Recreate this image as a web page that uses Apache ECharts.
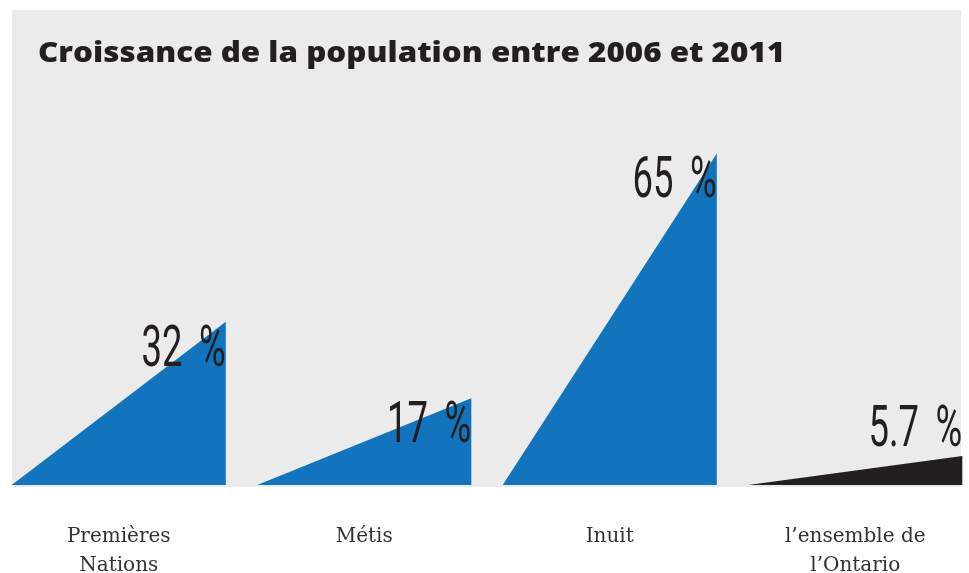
<!DOCTYPE html>
<html>
<head>
<meta charset="utf-8">
<script src="https://cdn.jsdelivr.net/npm/echarts@6/dist/echarts.min.js"></script>
<style>
html,body{margin:0;padding:0;background:#fff;}
#chart{width:969px;height:573px;}
</style>
</head>
<body>
<div id="chart"></div>
<script>
var categories = ['Premières\nNations', 'Métis', 'Inuit', 'l’ensemble de\nl’Ontario'];
var values = [32, 17, 65, 5.7];
var valueLabels = ['32 %', '17 %', '65 %', '5.7 %'];
var colors = ['#1174bd', '#1174bd', '#1174bd', '#231f20'];
var titleText = 'Croissance de la population entre 2006 et 2011';

var chart = echarts.init(document.getElementById('chart'));

function renderTriangle(params, api) {
  var idx = api.value(0);
  var val = api.value(1);
  var base = api.coord([idx, 0]);
  var apex = api.coord([idx, val]);
  var band = api.size([1, 0])[0];
  var half = band * 0.872 / 2;
  var left = base[0] - half;
  var right = base[0] + half;
  var labelTop = Math.min(apex[1], base[1] - 83) + 1;
  return {
    type: 'group',
    children: [
      {
        type: 'polygon',
        shape: { points: [[left, base[1]], [right, base[1]], [right, apex[1]]] },
        style: { fill: colors[idx] }
      },
      {
        type: 'text',
        x: right,
        y: labelTop,
        scaleX: 0.64,
        style: {
          text: valueLabels[idx].replace(' ', ' \u2009'),
          x: 0, y: 0,
          align: 'right',
          verticalAlign: 'top',
          fill: '#231f20',
          font: '400 57px Roboto'
        },
        z2: 10
      }
    ]
  };
}

var data = values.map(function (v, i) { return [i, v]; });

chart.setOption({
  backgroundColor: '#ffffff',
  animation: false,
  graphic: [
    {
      type: 'rect',
      shape: { x: 12, y: 10, width: 949, height: 477 },
      style: { fill: '#ebebeb' },
      z: -10,
      silent: true
    },
    {
      type: 'text',
      x: 38,
      y: 54,
      scaleX: 1.12,
      style: {
        text: titleText,
        fill: '#231f20',
        font: '800 28px "Open Sans"',
        verticalAlign: 'middle'
      },
      z: 10
    }
  ],
  grid: { left: -4, right: -9, top: 77, bottom: 88, containLabel: false, outerBoundsMode: 'none' },
  xAxis: {
    type: 'category',
    data: categories,
    boundaryGap: true,
    axisLine: { show: false },
    axisTick: { show: false },
    axisLabel: {
      margin: 37,
      color: '#333333',
      fontFamily: 'DejaVu Serif',
      fontSize: 20,
      lineHeight: 29,
      interval: 0
    }
  },
  yAxis: {
    type: 'value',
    min: 0,
    max: 80,
    show: false,
    splitLine: { show: false }
  },
  series: [
    {
      type: 'custom',
      renderItem: renderTriangle,
      data: data,
      encode: { x: 0, y: 1 }
    }
  ]
});
</script>
</body>
</html>
